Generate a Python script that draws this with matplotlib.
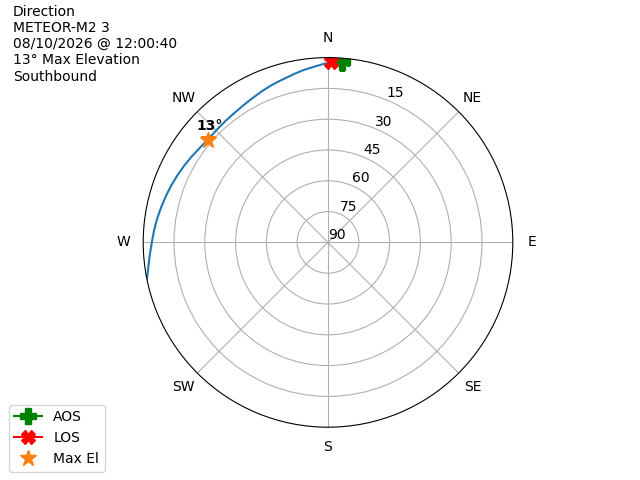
import matplotlib.pyplot as plt
import numpy as np

# pass track (azimuth deg, elevation deg)
track_az = [359.2, 356, 352, 349, 346, 343, 340, 337, 334, 331, 328, 324, 320,
            315, 311, 307, 302, 298, 294, 290, 286, 282, 278, 274, 270, 266,
            262, 258.5]
track_el = [2.8, 4.0, 5.2, 6.2, 7.2, 8.0, 8.7, 9.5, 10.3, 11.0, 11.6, 12.2, 12.6,
            12.9, 13.0, 12.5, 11.5, 10.6, 9.7, 8.8, 7.9, 7.0, 6.0, 5.1, 4.2, 3.0,
            1.6, 0.0]

aos_az, aos_el = 4.5, 1.8
los_az, los_el = 0.8, 2.0
max_az, max_el = 310.6, 13.3

dir_angles = [0, 45, 90, 135, 180, 225, 270, 315]
dir_labels = ['N', 'NE', 'E', 'SE', 'S', 'SW', 'W', 'NW']
el_ticks = [15, 30, 45, 60, 75, 90]

info = "Direction\nMETEOR-M2 3\n08/10/2026 @ 12:00:40\n13° Max Elevation\nSouthbound"

fig = plt.figure(figsize=(6.4, 4.8), dpi=100)
ax = fig.add_subplot(111, projection='polar')
ax.set_theta_zero_location('N')
ax.set_theta_direction(-1)

ax.plot(np.radians(track_az), track_el, color='C0')
ax.plot(np.radians(aos_az), aos_el, 'g-P', markersize=11, label='AOS')
ax.plot(np.radians(los_az), los_el, 'r-X', markersize=10, label='LOS')
ax.plot(np.radians(max_az), max_el, '*', color='C1', markersize=12,
        linestyle='none', label='Max El')
ax.annotate('13°', (np.radians(max_az), max_el), xytext=(1, 5),
            textcoords='offset points', ha='center', va='bottom',
            fontweight='bold')

ax.set_rlim(90, 0)
ax.set_yticks(el_ticks)
ax.set_yticklabels([str(t) for t in el_ticks])
ax.set_thetagrids(dir_angles, dir_labels)

fig.text(0.02, 0.99, info, ha='left', va='top', fontsize=10)
fig.legend(loc='lower left', bbox_to_anchor=(0.003, 0.003))

plt.savefig('out.png', dpi=100)
